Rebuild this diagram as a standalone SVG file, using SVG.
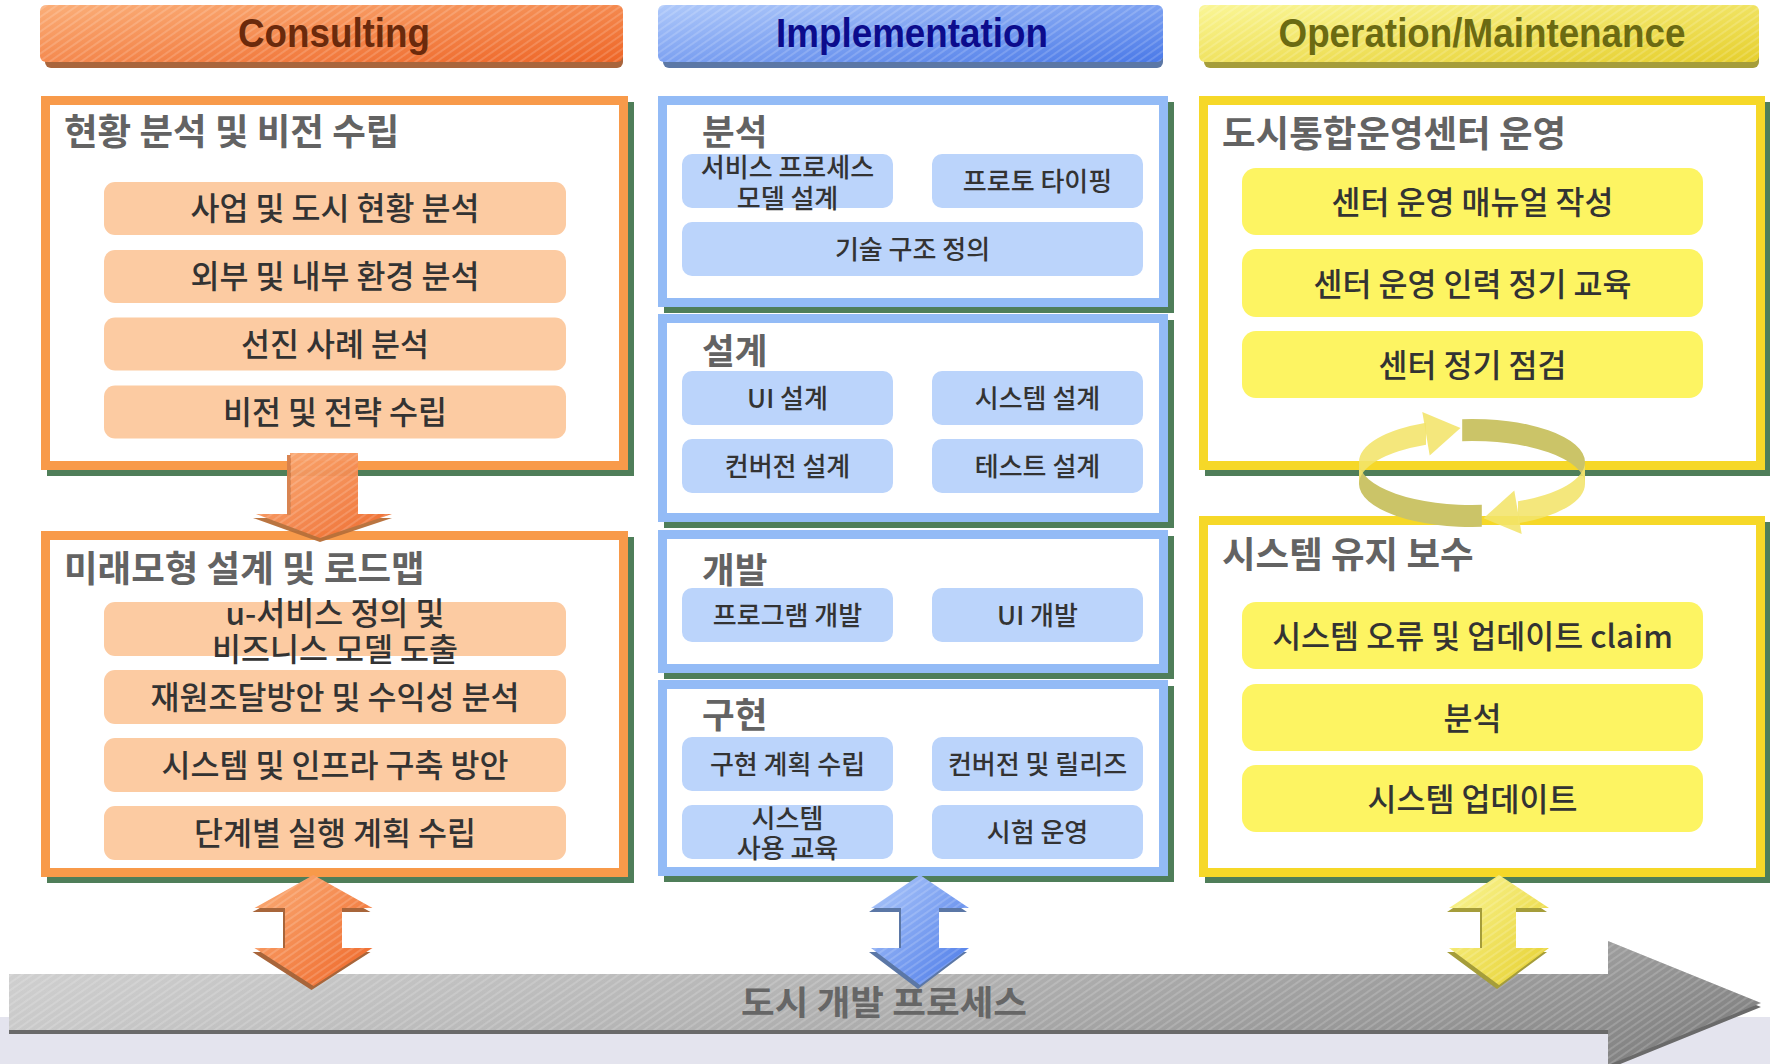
<svg xmlns="http://www.w3.org/2000/svg" width="1770" height="1064" viewBox="0 0 1770 1064">
<defs>
<style>
.ttl{font-family:'Noto Sans CJK KR','Noto Sans',sans-serif;font-weight:bold;font-size:36.5px;fill:#636363}
.ttl2{font-family:'Noto Sans CJK KR','Noto Sans',sans-serif;font-weight:bold;font-size:35.5px;fill:#636363}
.it{font-family:'Noto Sans CJK KR','Noto Sans',sans-serif;font-weight:500;font-size:31.5px;fill:#333333;text-anchor:middle}
.its{font-family:'Noto Sans CJK KR','Noto Sans',sans-serif;font-weight:500;font-size:26px;fill:#333333;text-anchor:middle}
.hdr{font-family:'Liberation Sans',Arial,sans-serif;font-weight:bold;font-size:41px;text-anchor:middle}
.pO{fill:#ffffff;stroke:#F89A4A;stroke-width:9}
.pB{fill:#ffffff;stroke:#93BBF6;stroke-width:9}
.pY{fill:#ffffff;stroke:#F6D828;stroke-width:9}
.sh{fill:#4F7E59}
.iO{fill:#FCCBA2}
.iB{fill:#BBD4FB}
.iY{fill:#FDF462}
</style>
<linearGradient id="gO" x1="0" y1="0" x2="1" y2="1"><stop offset="0" stop-color="#FBAE78"/><stop offset="1" stop-color="#EE6526"/></linearGradient>
<linearGradient id="gB" x1="0" y1="0" x2="1" y2="1"><stop offset="0" stop-color="#AFC9FA"/><stop offset="1" stop-color="#4A79E8"/></linearGradient>
<linearGradient id="gY" x1="0" y1="0" x2="1" y2="1"><stop offset="0" stop-color="#FAF696"/><stop offset="1" stop-color="#E6CF2C"/></linearGradient>
<linearGradient id="gG" x1="0" y1="0" x2="1" y2="0"><stop offset="0" stop-color="#C6C6C6"/><stop offset="0.55" stop-color="#A3A3A3"/><stop offset="0.9" stop-color="#858585"/><stop offset="1" stop-color="#767676"/></linearGradient>
<linearGradient id="gGv" x1="0" y1="0" x2="0" y2="1"><stop offset="0" stop-color="#ffffff" stop-opacity="0.22"/><stop offset="1" stop-color="#ffffff" stop-opacity="0"/></linearGradient>
<pattern id="hatch" width="6" height="6" patternUnits="userSpaceOnUse" patternTransform="rotate(-35)"><rect width="6" height="2" fill="#ffffff" fill-opacity="0.16"/></pattern>
</defs>

<rect x="0" y="0" width="1770" height="1064" fill="#ffffff"/>
<rect x="0" y="1017" width="1770" height="47" fill="#E4E4EE"/>

<!-- headers -->
<g id="hdr-consulting">
<rect x="45" y="11" width="578" height="57" rx="6" fill="#A9653C"/>
<rect x="40" y="5" width="583" height="57" rx="6" fill="url(#gO)"/>
<rect x="40" y="5" width="583" height="57" rx="6" fill="url(#hatch)"/>
<text class="hdr" x="334" y="47" fill="#6B2A0C" textLength="192" lengthAdjust="spacingAndGlyphs">Consulting</text>
</g>
<g id="hdr-implementation">
<rect x="663" y="11" width="500" height="57" rx="6" fill="#5B77A6"/>
<rect x="658" y="5" width="505" height="57" rx="6" fill="url(#gB)"/>
<rect x="658" y="5" width="505" height="57" rx="6" fill="url(#hatch)"/>
<text class="hdr" x="912" y="47" fill="#0C0C8C" textLength="272" lengthAdjust="spacingAndGlyphs">Implementation</text>
</g>
<g id="hdr-operation">
<rect x="1204" y="11" width="555" height="57" rx="6" fill="#A59D3A"/>
<rect x="1199" y="5" width="560" height="57" rx="6" fill="url(#gY)"/>
<rect x="1199" y="5" width="560" height="57" rx="6" fill="url(#hatch)"/>
<text class="hdr" x="1482" y="47" fill="#6B6A12" textLength="407" lengthAdjust="spacingAndGlyphs">Operation/Maintenance</text>
</g>

<!-- Consulting panels -->
<g id="cons-a">
<rect class="sh" x="47" y="102" width="587" height="374"/>
<rect class="pO" x="45.5" y="100.5" width="578" height="365"/>
<text class="ttl" x="64" y="145">현황 분석 및 비전 수립</text>
<rect class="iO" x="104" y="182" width="462" height="53" rx="11"/>
<text class="it" x="335" y="220">사업 및 도시 현황 분석</text>
<rect class="iO" x="104" y="250" width="462" height="53" rx="11"/>
<text class="it" x="335" y="288">외부 및 내부 환경 분석</text>
<rect class="iO" x="104" y="317.5" width="462" height="53" rx="11"/>
<text class="it" x="335" y="355.5">선진 사례 분석</text>
<rect class="iO" x="104" y="385.5" width="462" height="53" rx="11"/>
<text class="it" x="335" y="423.5">비전 및 전략 수립</text>
</g>
<g id="cons-b">
<rect class="sh" x="47" y="537" width="587" height="346"/>
<rect class="pO" x="45.5" y="535.5" width="578" height="337"/>
<text class="ttl" x="64" y="582">미래모형 설계 및 로드맵</text>
<rect class="iO" x="104" y="602" width="462" height="54" rx="11"/>
<text class="it"><tspan x="335" y="625">u-서비스 정의 및</tspan><tspan x="335" y="661">비즈니스 모델 도출</tspan></text>
<rect class="iO" x="104" y="670" width="462" height="54" rx="11"/>
<text class="it" x="335" y="709">재원조달방안 및 수익성 분석</text>
<rect class="iO" x="104" y="738" width="462" height="54" rx="11"/>
<text class="it" x="335" y="777">시스템 및 인프라 구축 방안</text>
<rect class="iO" x="104" y="806" width="462" height="54" rx="11"/>
<text class="it" x="335" y="845">단계별 실행 계획 수립</text>
</g>

<!-- Implementation panels -->
<g id="impl-a">
<rect class="sh" x="664" y="102" width="510" height="211"/>
<rect class="pB" x="662.5" y="100.5" width="501" height="202"/>
<text class="ttl2" x="702" y="145">분석</text>
<rect class="iB" x="682" y="154" width="211" height="54" rx="10"/>
<text class="its"><tspan x="787.5" y="177">서비스 프로세스</tspan><tspan x="787.5" y="208">모델 설계</tspan></text>
<rect class="iB" x="932" y="154" width="211" height="54" rx="10"/>
<text class="its" x="1037.5" y="191">프로토 타이핑</text>
<rect class="iB" x="682" y="222" width="461" height="54" rx="10"/>
<text class="its" x="912.5" y="259">기술 구조 정의</text>
</g>
<g id="impl-b">
<rect class="sh" x="664" y="320" width="510" height="208"/>
<rect class="pB" x="662.5" y="318.5" width="501" height="199"/>
<text class="ttl2" x="702" y="364">설계</text>
<rect class="iB" x="682" y="371" width="211" height="54" rx="10"/>
<text class="its" x="787.5" y="408">UI 설계</text>
<rect class="iB" x="932" y="371" width="211" height="54" rx="10"/>
<text class="its" x="1037.5" y="408">시스템 설계</text>
<rect class="iB" x="682" y="439" width="211" height="54" rx="10"/>
<text class="its" x="787.5" y="476">컨버전 설계</text>
<rect class="iB" x="932" y="439" width="211" height="54" rx="10"/>
<text class="its" x="1037.5" y="476">테스트 설계</text>
</g>
<g id="impl-c">
<rect class="sh" x="664" y="536" width="510" height="143"/>
<rect class="pB" x="662.5" y="534.5" width="501" height="134"/>
<text class="ttl2" x="702" y="583">개발</text>
<rect class="iB" x="682" y="588" width="211" height="54" rx="10"/>
<text class="its" x="787.5" y="625">프로그램 개발</text>
<rect class="iB" x="932" y="588" width="211" height="54" rx="10"/>
<text class="its" x="1037.5" y="625">UI 개발</text>
</g>
<g id="impl-d">
<rect class="sh" x="664" y="686" width="510" height="196"/>
<rect class="pB" x="662.5" y="684.5" width="501" height="187"/>
<text class="ttl2" x="702" y="728">구현</text>
<rect class="iB" x="682" y="737" width="211" height="54" rx="10"/>
<text class="its" x="787.5" y="774">구현 계획 수립</text>
<rect class="iB" x="932" y="737" width="211" height="54" rx="10"/>
<text class="its" x="1037.5" y="774">컨버전 및 릴리즈</text>
<rect class="iB" x="682" y="805" width="211" height="54" rx="10"/>
<text class="its"><tspan x="787.5" y="828">시스템</tspan><tspan x="787.5" y="858">사용 교육</tspan></text>
<rect class="iB" x="932" y="805" width="211" height="54" rx="10"/>
<text class="its" x="1037.5" y="842">시험 운영</text>
</g>

<!-- Operation panels -->
<g id="op-a">
<rect class="sh" x="1205" y="102" width="566" height="374"/>
<rect class="pY" x="1203.5" y="100.5" width="557" height="365"/>
<text class="ttl" x="1222" y="147">도시통합운영센터 운영</text>
<rect class="iY" x="1242" y="168" width="461" height="67" rx="14"/>
<text class="it" x="1472.5" y="214">센터 운영 매뉴얼 작성</text>
<rect class="iY" x="1242" y="249" width="461" height="68" rx="14"/>
<text class="it" x="1472.5" y="296">센터 운영 인력 정기 교육</text>
<rect class="iY" x="1242" y="331" width="461" height="67" rx="14"/>
<text class="it" x="1472.5" y="377">센터 정기 점검</text>
</g>
<g id="op-b">
<rect class="sh" x="1205" y="522" width="566" height="361"/>
<rect class="pY" x="1203.5" y="520.5" width="557" height="352"/>
<text class="ttl" x="1222" y="568">시스템 유지 보수</text>
<rect class="iY" x="1242" y="602" width="461" height="67" rx="14"/>
<text class="it" x="1472.5" y="648">시스템 오류 및 업데이트 claim</text>
<rect class="iY" x="1242" y="684" width="461" height="67" rx="14"/>
<text class="it" x="1472.5" y="730">분석</text>
<rect class="iY" x="1242" y="765" width="461" height="67" rx="14"/>
<text class="it" x="1472.5" y="811">시스템 업데이트</text>
</g>

<!-- process arrow -->
<g id="process">
<polygon points="9,978 1608,978 1608,945 1761,1007 1608,1069 1608,1034 9,1034" fill="#6A6A6A"/>
<polygon points="9,974 1608,974 1608,941 1761,1003 1608,1065 1608,1030 9,1030" fill="url(#gG)"/>
<polygon points="9,974 1608,974 1608,941 1761,1003 1608,1065 1608,1030 9,1030" fill="url(#gGv)"/>
<polygon points="9,974 1608,974 1608,941 1761,1003 1608,1065 1608,1030 9,1030" fill="url(#hatch)"/>
<text x="884" y="1015" text-anchor="middle" font-family="'Noto Sans CJK KR','Noto Sans',sans-serif" font-weight="bold" font-size="34" fill="#666666" textLength="286" lengthAdjust="spacingAndGlyphs">도시 개발 프로세스</text>
</g>

<g id="connectors">
<!-- orange down arrow -->
<g opacity="0.96">
<polygon points="287,457 358,457 358,518 392,518 320,542 253,518 287,518" fill="#B8703A"/>
<polygon points="290,453 358,453 358,514 392,514 320,538 256,514 290,514" fill="url(#gO)"/>
<rect x="287" y="455" width="4" height="60" fill="#D8804A"/>
<polygon points="290,453 358,453 358,514 392,514 320,538 256,514 290,514" fill="url(#hatch)"/>
</g>
<!-- orange double arrow -->
<polygon points="311.5,879 370.5,912 340,912 340,952 370.5,952 311.5,990 252.5,952 283,952 283,912 252.5,912" fill="#A8653A"/>
<polygon points="313.5,875 372.5,908 342,908 342,948 372.5,948 313.5,986 254.5,948 285,948 285,908 254.5,908" fill="url(#gO)"/>
<polygon points="313.5,875 372.5,908 342,908 342,948 372.5,948 313.5,986 254.5,948 285,948 285,908 254.5,908" fill="url(#hatch)"/>
<!-- blue double arrow -->
<polygon points="918,879 967,912 937,912 937,952 967,952 918,989 869,952 899,952 899,912 869,912" fill="#5B77A6"/>
<polygon points="920,875 969,908 939,908 939,948 969,948 920,985 871,948 901,948 901,908 871,908" fill="url(#gB)"/>
<polygon points="920,875 969,908 939,908 939,948 969,948 920,985 871,948 901,948 901,908 871,908" fill="url(#hatch)"/>
<!-- yellow double arrow -->
<polygon points="1497,879 1547,912 1514,912 1514,952 1547,952 1497,989 1447,952 1480,952 1480,912 1447,912" fill="#A59D3A"/>
<polygon points="1499,875 1549,908 1516,908 1516,948 1549,948 1499,985 1449,948 1482,948 1482,908 1449,908" fill="url(#gY)"/>
<polygon points="1499,875 1549,908 1516,908 1516,948 1549,948 1499,985 1449,948 1482,948 1482,908 1449,908" fill="url(#hatch)"/>
<!-- cycle arrows -->
<g id="cycle">
<path d="M1462.2,419.2 A113,43 0 0 1 1585,462 L1585,484 A113,43 0 0 0 1462.2,441.2 Z" fill="#CBC468"/>
<path d="M1481.8,504.8 A113,43 0 0 1 1359,462 L1359,484 A113,43 0 0 0 1481.8,526.8 Z" fill="#CBC468"/>
<g fill="#F2E46A" fill-opacity="0.88">
<path d="M1585,462 A113,43 0 0 1 1518,501.3 L1518,523.3 A113,43 0 0 0 1585,484 Z"/>
<polygon points="1514.3,490.6 1521.7,534 1483.5,518.2"/>
<path d="M1359,462 A113,43 0 0 1 1426,422.7 L1426,444.7 A113,43 0 0 0 1359,484 Z"/>
<polygon points="1422.3,412 1429.7,455.4 1460.5,428"/>
</g>
</g>
</g>
</svg>
